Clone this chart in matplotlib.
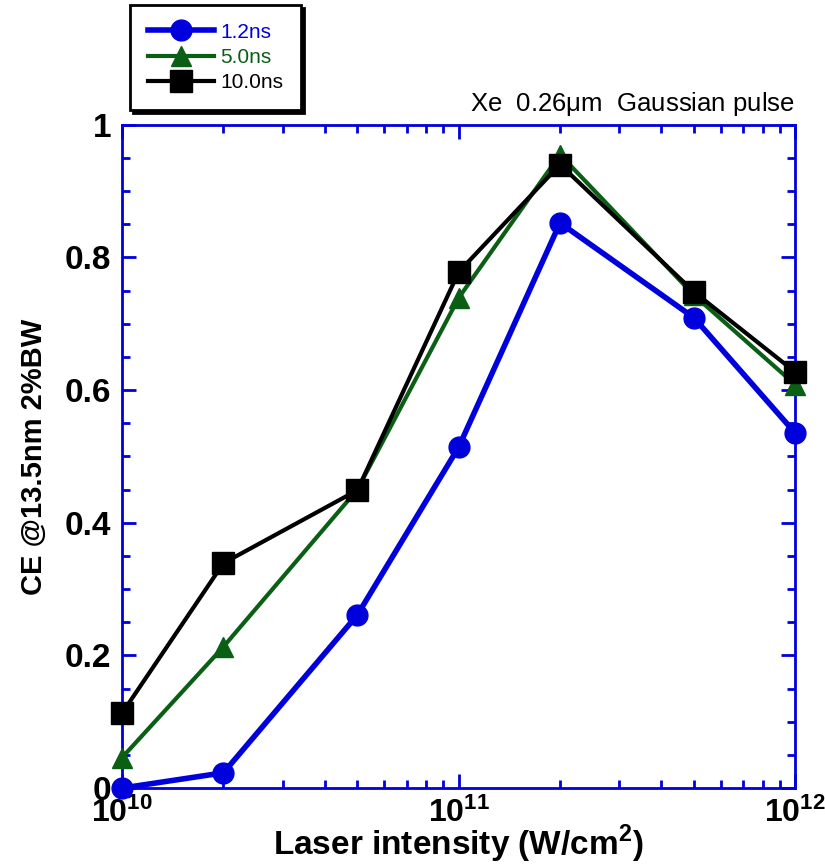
import matplotlib.pyplot as plt
from matplotlib.ticker import MultipleLocator, LogLocator, FixedLocator, FuncFormatter
import numpy as np

plt.rcParams['font.family'] = ['Liberation Sans', 'DejaVu Sans']
plt.rcParams['mathtext.fontset'] = 'custom'
plt.rcParams['mathtext.rm'] = 'Liberation Sans'
plt.rcParams['mathtext.bf'] = 'Liberation Sans:bold'

intensity = [1e10, 2e10, 5e10, 1e11, 2e11, 5e11, 1e12]
ce_12 = [0.0, 0.023, 0.261, 0.514, 0.852, 0.709, 0.535]
ce_50 = [0.046, 0.213, 0.450, 0.739, 0.955, 0.743, 0.608]
ce_100 = [0.113, 0.339, 0.449, 0.778, 0.940, 0.748, 0.627]
labels = ['1.2ns', '5.0ns', '10.0ns']

fig = plt.figure(figsize=(8.25, 8.66), dpi=100)
ax = fig.add_axes([0.148, 0.090, 0.816, 0.766])

ax.plot(intensity, ce_12, color='#0000dd', lw=4, marker='o', ms=15, label=labels[0], clip_on=False, zorder=3)
ax.plot(intensity, ce_50, color='#0a5f14', lw=3, marker='^', ms=15, label=labels[1], clip_on=False, zorder=4)
ax.plot(intensity, ce_100, color='black', lw=3, marker='s', ms=16, label=labels[2], clip_on=False, zorder=5)

ax.set_xscale('log')
ax.set_xlim(1e10, 1e12)
ax.set_ylim(0, 1)
ax.yaxis.set_major_locator(FixedLocator([0, 0.2, 0.4, 0.6, 0.8, 1.0]))
ax.set_yticklabels(['0', '0.2', '0.4', '0.6', '0.8', '1'])
ax.yaxis.set_minor_locator(MultipleLocator(0.05))
ax.xaxis.set_major_locator(FixedLocator([1e10, 1e11, 1e12]))
ax.xaxis.set_major_formatter(FuncFormatter(lambda v, p: '$\\mathbf{10^{%d}}$' % round(np.log10(v))))
ax.xaxis.set_minor_locator(LogLocator(base=10, subs=range(2, 10), numticks=20))

for s in ax.spines.values():
    s.set_color('#0000dd')
    s.set_linewidth(2)
ax.tick_params(which='both', direction='in', top=True, right=True, color='#0000dd', width=2)
ax.tick_params(which='major', length=10, labelsize=24)
ax.tick_params(axis='y', which='major', pad=8)
ax.tick_params(axis='x', which='major', labelsize=23, pad=7)
ax.tick_params(which='minor', length=6)
for t in ax.get_yticklabels():
    t.set_fontweight('bold')

fig.text(458.5/825, 1-855/866, 'Laser intensity (W/cm$^\\mathbf{2}$)', ha='center', va='baseline',
         fontsize=24, fontweight='bold')
ax.set_ylabel('CE @13.5nm 2%BW', fontsize=21, fontweight='bold', labelpad=12)
ax.text(1.0, 1.01, 'Xe  0.26$\\mathregular{\\mu}$m  Gaussian pulse', transform=ax.transAxes,
        ha='right', va='bottom', fontsize=18.5)

leg = fig.legend(loc='upper left', bbox_to_anchor=(130/825, 1-5/866), fontsize=15,
                 labelcolor='linecolor', fancybox=False, shadow={'color': 'black', 'alpha': 1},
                 edgecolor='black', handlelength=3.2, borderpad=0.85, labelspacing=0.3,
                 handletextpad=0.3, framealpha=1, borderaxespad=0)
leg.get_frame().set_linewidth(2)

fig.savefig('out.png', dpi=100)
